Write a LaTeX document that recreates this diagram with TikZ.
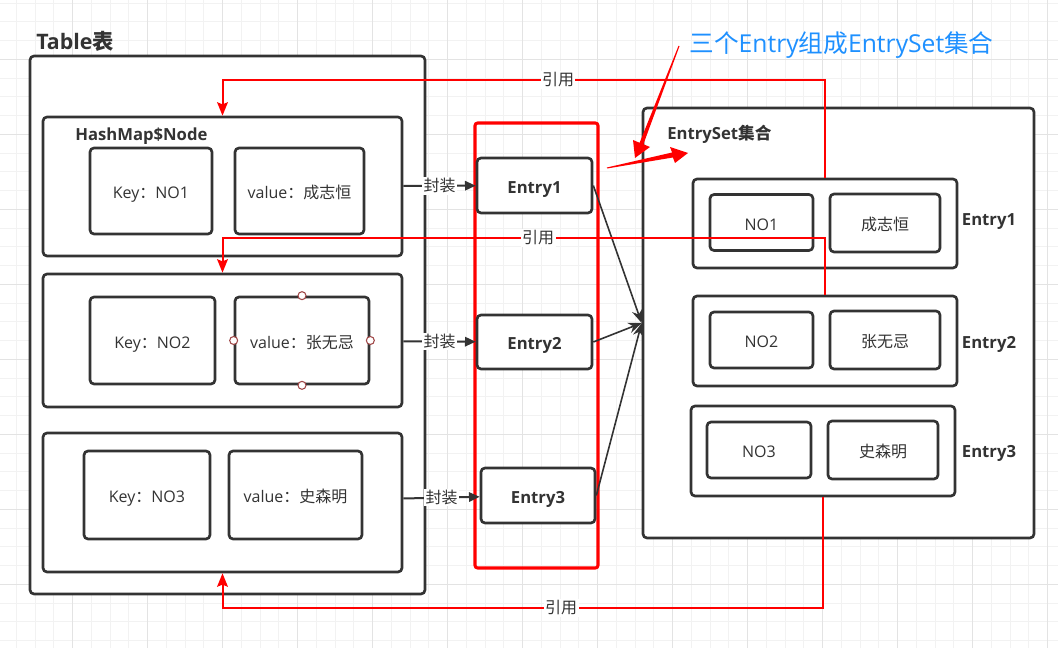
\documentclass[tikz,border=0pt]{standalone}
\usepackage{fontspec}
\setmainfont{Open Sans}
\newfontfamily\cjk{Noto Sans CJK SC}
\usetikzlibrary{arrows.meta}
\definecolor{ink}{HTML}{333333}
\definecolor{gridminor}{HTML}{F2F2F2}
\definecolor{gridmajor}{HTML}{E3E3E3}
\definecolor{refred}{HTML}{FF0000}
\definecolor{noteblue}{HTML}{1E90FF}
\definecolor{handlered}{HTML}{A04848}
\tikzset{
  px/.style 2 args={minimum width=#1*0.75pt, minimum height=#2*0.75pt},
  box/.style={draw=ink, fill=white, line width=2pt, rounded corners=3pt,
    inner sep=0pt, text=ink, text height=11.5pt, text depth=0pt, font=\fontsize{12}{14}\selectfont},
  entry/.style={box, font=\bfseries\fontsize{12.5}{14}\selectfont},
  redbox/.style={draw=refred, line width=2.3pt, rounded corners=2pt, inner sep=0pt},
  title/.style={text=ink, inner sep=0pt, font=\bfseries\fontsize{12.5}{14}\selectfont},
  tag/.style={fill=white, text=ink, inner sep=1pt, font=\cjk\fontsize{12}{14}\selectfont},
  handle/.style={circle, draw=handlered, fill=white, line width=0.8pt, inner sep=0pt, minimum size=6pt},
  pack/.style={draw=ink, line width=1.5pt, -{Triangle[length=8pt,width=7pt]}},
  link/.style={draw=ink, line width=1.2pt, -{Stealth[length=10pt,width=8pt]}},
  ref/.style={draw=refred, line width=1.5pt, -{Stealth[length=10pt,width=8pt,inset=1.5pt]}},
}
\begin{document}
\begin{tikzpicture}[x=0.75pt, y=-0.75pt]
  \useasboundingbox (0,0) rectangle (1058,648);
  % grid
  \foreach \i in {1,...,56} \draw[gridminor, line width=0.75pt] ({-2.3+18.75*\i},0) -- ++(0,648);
  \foreach \j in {0,...,34} \draw[gridminor, line width=0.75pt] (0,{3.05+18.75*\j}) -- ++(1058,0);
  \foreach \i in {1,...,14} \draw[gridmajor, line width=0.75pt] ({-2.3+75*\i},0) -- ++(0,648);
  \foreach \j in {0,...,7} \draw[gridmajor, line width=0.75pt] (0,{59.3+75*\j}) -- ++(1058,0);

  % Table
  \node[title, anchor=base west, font=\bfseries\fontsize{16}{18}\selectfont] (tabletitle) at (36,49.3) {Table{\cjk 表}};
  \node[box, px={395}{538}] (table) at (227.5,325) {};
  \node[box, px={359}{139}] (node1) at (222.5,186.5) {};
  \node[title, anchor=base west] (nodetitle) at (75,141) {HashMap\$Node};
  \node[box, px={122}{86}] (key1) at (151,191) {Key{\cjk ：}NO1};
  \node[box, px={129}{86}] (val1) at (299.5,191) {value{\cjk ：成志恒}};
  \node[box, px={359}{133}] (node2) at (222.5,340.5) {};
  \node[box, px={125}{87}] (key2) at (152.5,340.5) {Key{\cjk ：}NO2};
  \node[box, px={134}{87}] (val2) at (302,340.5) {value{\cjk ：张无忌}};
  \foreach \a in {north,east,south,west} \node[handle] (h-\a) at (val2.\a) {};
  \node[box, px={359}{139}] (node3) at (222.5,502.5) {};
  \node[box, px={126}{88}] (key3) at (147,495) {Key{\cjk ：}NO3};
  \node[box, px={133}{88}] (val3) at (295.5,495) {value{\cjk ：史森明}};

  % Entry column
  \node[redbox, px={123}{445}] (entries) at (536.5,345.5) {};
  \node[entry, px={115}{55}] (entry1) at (534.5,185.5) {Entry1};
  \node[entry, px={115}{54}] (entry2) at (534.5,342) {Entry2};
  \node[entry, px={114}{55}] (entry3) at (538,495.5) {Entry3};

  % EntrySet
  \node[box, px={391}{430}] (set) at (838.5,323) {};
  \node[title, anchor=base west] (settitle) at (667,139.3) {EntrySet{\cjk 集合}};
  \node[box, px={264}{89}] (set1) at (825,223.5) {};
  \node[box, px={103}{56}] (setkey1) at (761.5,222.5) {NO1};
  \node[box, px={110}{58}] (setval1) at (885,223) {\cjk 成志恒};
  \node[title, anchor=base] (setlbl1) at (989,226) {Entry1};
  \node[box, px={264}{90}] (set2) at (825,341) {};
  \node[box, px={103}{56}] (setkey2) at (761.5,340) {NO2};
  \node[box, px={110}{58}] (setval2) at (885,340) {\cjk 张无忌};
  \node[title, anchor=base] (setlbl2) at (989,348.3) {Entry2};
  \node[box, px={264}{90}] (set3) at (823,451) {};
  \node[box, px={104}{56}] (setkey3) at (759,450) {NO3};
  \node[box, px={110}{58}] (setval3) at (883,450) {\cjk 史森明};
  \node[title, anchor=base] (setlbl3) at (989,458) {Entry3};

  \begin{scope}[pack]
    \draw (node1) -- node[tag]{封装} (entry1);
    \draw (node2) -- node[tag]{封装} (entry2);
    \draw (node3) -- node[tag]{封装} (entry3);
  \end{scope}
  \begin{scope}[link]
    \draw (entry1.east) -- (set.west);
    \draw (entry2.east) -- (set.west);
    \draw (entry3.east) -- (set.west);
  \end{scope}
  \begin{scope}[ref]
    \draw (set1.north) -- (set1.north |- 0,80) -- node[tag, pos=0.443]{引用} (node1.north |- 0,80) -- (node1.north);
    \draw (set2.north) -- (set2.north |- 0,238) -- node[tag, pos=0.476]{引用} (node2.north |- 0,238) -- (node2.north);
    \draw (set3.south) -- (set3.south |- 0,608) -- node[tag, pos=0.436]{引用} (node3.south |- 0,608) -- (node3.south);
  \end{scope}

  % note
  \node[text=noteblue, inner sep=0pt, font=\fontsize{18.5}{20}\selectfont] (note) at (841.5,45)
    {{\cjk 三个}Entry{\cjk 组成}EntrySet{\cjk 集合}};
  \fill[refred] (678.5,45.8) -- (679.5,46.2) -- (643.4,144.2) -- (650,147) -- (635,158)
    -- (633,140) -- (639.6,142.8) -- cycle;
  \fill[refred] (606.9,167.5) -- (607.1,168.5) -- (672.9,157.5) -- (675,163) -- (688,153)
    -- (670,147) -- (672.1,152.5) -- cycle;
\end{tikzpicture}
\end{document}
